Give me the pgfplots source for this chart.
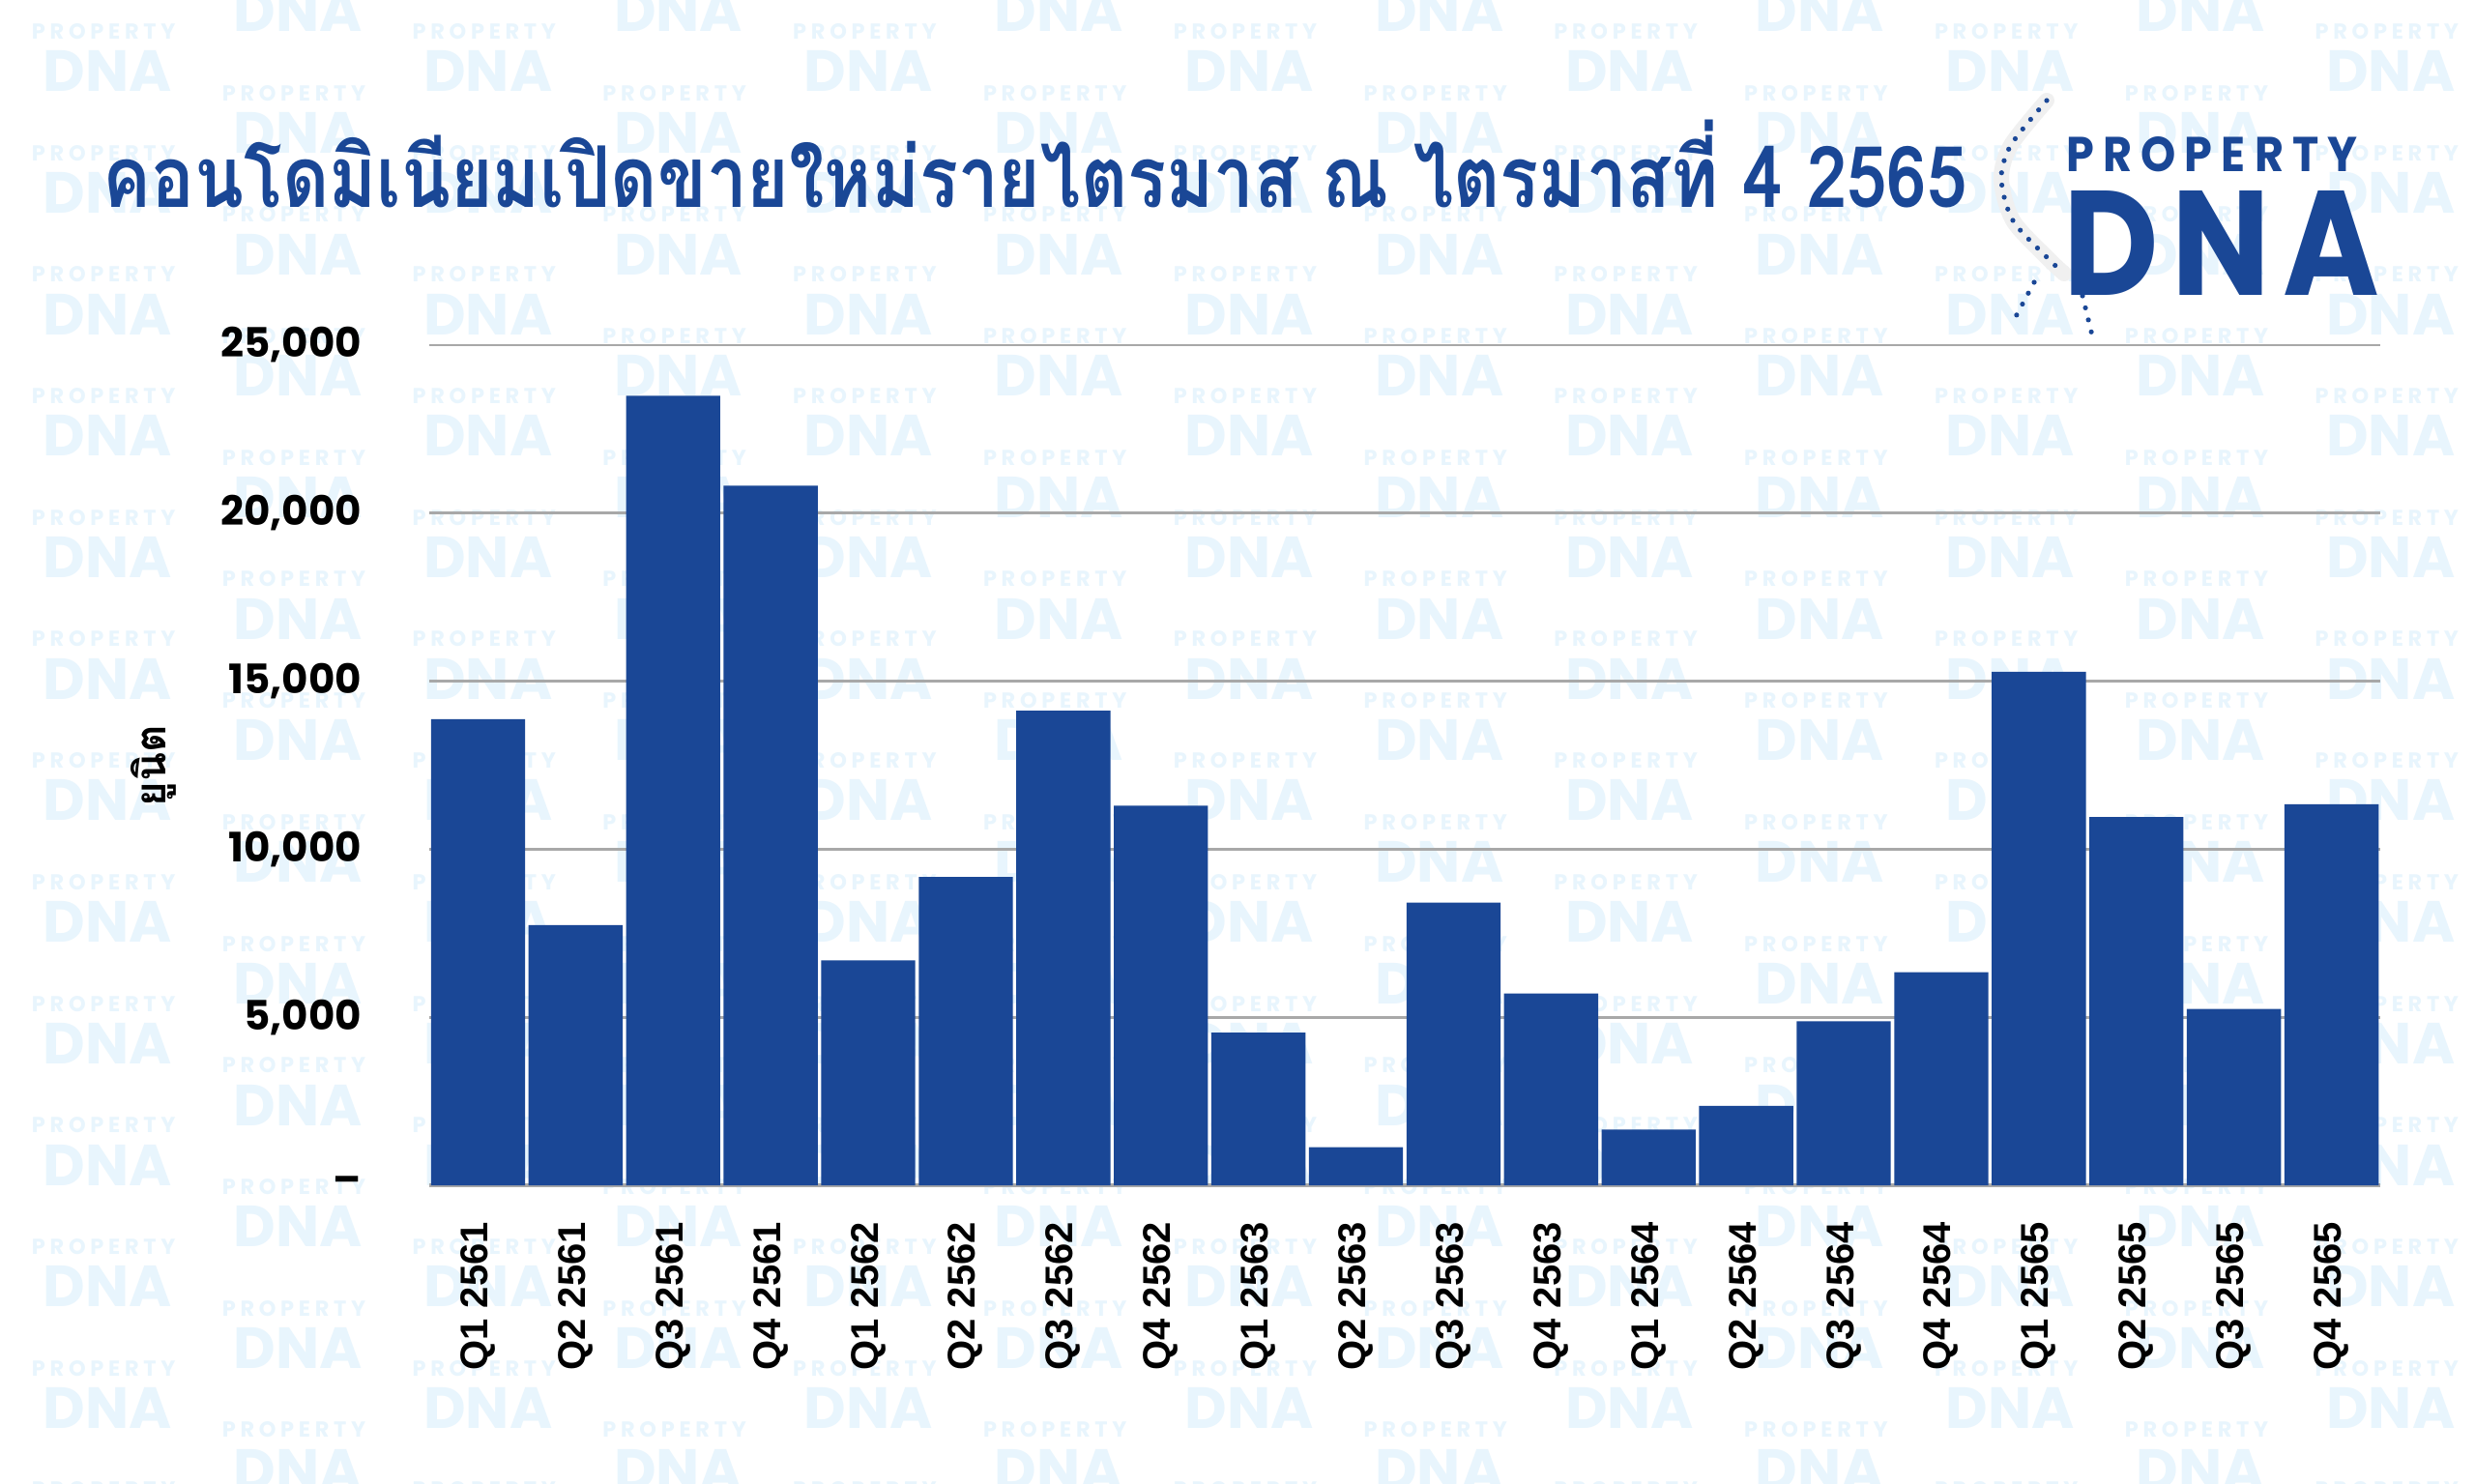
\documentclass[border=0pt]{standalone}
\usepackage{fontspec}
\usepackage{pgfplots}
\pgfplotsset{compat=1.18}
\setmainfont{Poppins}
\newfontfamily\thaifont[Script=Thai]{Loma}
\newfontfamily\arialfont{Liberation Sans}
\definecolor{dnablue}{HTML}{1A4796}
\definecolor{wm}{HTML}{E8F5FD}
\definecolor{gridgray}{HTML}{A8A8A8}
\begin{document}
\begin{tikzpicture}[x=1pt,y=1pt]
\useasboundingbox (0,0) rectangle (640,383.5);
\fill[white] (0,0) rectangle (640,383.5);
% background watermark
\foreach \k in {0,...,12}{
  \foreach \j in {0,...,12}{
    \pgfmathsetmacro{\xx}{27.8+49.2*\k}
    \pgfmathsetmacro{\yy}{383.5-ifthenelse(mod(\k,2)==0,18.4,2.9)-31.43*\j}
    \node[font=\bfseries\fontsize{15}{15}\selectfont, text=wm, inner sep=0] at (\xx,\yy) {DNA};
    \node[font=\bfseries\fontsize{5.6}{6}\selectfont, text=wm, inner sep=0] at (\xx-1,\yy+10.3) {P R O P E R T Y};
  }
}
\begin{axis}[
  at={(111pt,77pt)}, anchor=south west,
  scale only axis, width=504.5pt, height=217.25pt,
  xmin=-0.5, xmax=19.5, ymin=0, ymax=25000,
  axis x line*=bottom, axis y line*=left,
  y axis line style={draw=none},
  x axis line style={gridgray, line width=1.2pt},
  ymajorgrids, grid style={gridgray, line width=0.7pt},
  major tick length=0pt,
  ytick={0,5000,10000,15000,20000,25000},
  yticklabels={{--\hspace{5.7pt}},{5,000},{10,000},{15,000},{20,000},{25,000}},
  yticklabel style={font=\bfseries\fontsize{10.5}{12}\selectfont, xshift=-14pt},
  scaled y ticks=false,
  xtick={0,...,19},
  xticklabels={Q1 2561,Q2 2561,Q3 2561,Q4 2561,Q1 2562,Q2 2562,Q3 2562,Q4 2562,Q1 2563,Q2 2563,Q3 2563,Q4 2563,Q1 2564,Q2 2564,Q3 2564,Q4 2564,Q1 2565,Q2 2565,Q3 2565,Q4 2565},
  xticklabel style={font=\arialfont\bfseries\fontsize{10}{12}\selectfont, rotate=90, anchor=east},
  xticklabel shift=6pt,
  clip=false,
]
\addplot[ybar, bar width=0.965, fill=dnablue, draw=none] coordinates {
(0,13870) (1,7740) (2,23495) (3,20817) (4,6696) (5,9177) (6,14120) (7,11293)
(8,4540) (9,1135) (10,8410) (11,5710) (12,1660) (13,2360) (14,4880) (15,6340)
(16,15280) (17,10960) (18,5250) (19,11340)
};
\end{axis}
% y label
\node[rotate=90, font=\thaifont\bfseries\fontsize{11}{12}\selectfont] at (39.6,185.5) {ยูนิต};
% title
\node[anchor=west, inner sep=0, text=dnablue, font=\thaifont\bfseries\fontsize{22}{24}\selectfont] at (26.5,341) {\resizebox{482pt}{\height}{คอนโดมิเนียมเปิดขายใหม่รายไตรมาส ณ ไตรมาสที่ 4 2565}};
% logo
\draw[gray!12, line width=4pt, line cap=round] plot[smooth] coordinates {(529.25,357.5) (520,346) (517.5,337.25) (520.5,326.5) (529.5,316.75) (533.75,312.75)};
\draw[dnablue, line width=1.3pt, dash pattern=on 0pt off 3.2pt, line cap=round] plot[smooth] coordinates {(529.25,357.5) (520,346) (517.5,337.25) (520.5,326.5) (529.5,316.75) (533.75,312.75)};
\draw[dnablue, line width=1.3pt, dash pattern=on 0pt off 3.2pt, line cap=round] (526,310.5) -- (520.5,300.25);
\draw[dnablue, line width=1.3pt, dash pattern=on 0pt off 3.2pt, line cap=round] (538.5,307) -- (541,296.75);
\node[text=dnablue, inner sep=0, font=\bfseries] at (572,343.5) {\resizebox{75.4pt}{9pt}{P\kern2ptR\kern2ptO\kern2ptP\kern2ptE\kern2ptR\kern2ptT\kern2ptY}};
\node[text=dnablue, inner sep=0, font=\bfseries] at (574.4,320.6) {\resizebox{81.75pt}{27pt}{D\kern1ptN\kern1ptA}};
\end{tikzpicture}
\end{document}
